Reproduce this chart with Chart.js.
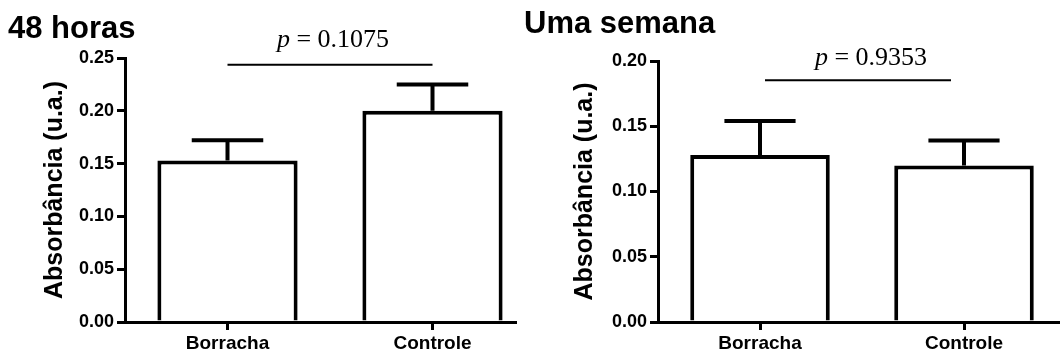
<!DOCTYPE html>
<html>
<head>
<meta charset="utf-8">
<script src="https://cdn.jsdelivr.net/npm/chart.js@4.4.1/dist/chart.umd.min.js"></script>
<style>
  html, body { margin: 0; padding: 0; background: #fff; overflow: hidden; }
  canvas { display: block; }
  .painel { position: absolute; top: 0; height: 354px; overflow: hidden; }
  #painel48h { left: 0; width: 517px; }
  #painelSemana { left: 515px; width: 545px; }
</style>
</head>
<body>
<div class="painel" id="painel48h"><canvas id="chart48h" width="535" height="354"></canvas></div>
<div class="painel" id="painelSemana"><canvas id="chartSemana" width="551" height="354"></canvas></div>
<script>
// grupos
const categorias = ['Borracha', 'Controle'];

// 48 horas: média e erro padrão
const medias48h = [0.153, 0.200];
const erros48h = [0.019, 0.025];
const ticks48h = [0.00, 0.05, 0.10, 0.15, 0.20, 0.25];
const p48h = '0.1075';
const nivelP48h = 0.2435;

// uma semana
const mediasSemana = [0.128, 0.120];
const errosSemana = [0.026, 0.019];
const ticksSemana = [0.00, 0.05, 0.10, 0.15, 0.20];
const pSemana = '0.9353';
const nivelPSemana = 0.1853;

const SANS = 'Arial, "Liberation Sans", sans-serif';
const SERIF = '"Times New Roman", "Liberation Serif", serif';

// barras de erro (só para cima), linha de comparação com o p e título do painel
const anotacoes = {
    id: 'anotacoes',
    afterDatasetsDraw(chart, args, opts) {
        const ctx = chart.ctx;
        const y = chart.scales.y;
        const meta = chart.getDatasetMeta(0);
        const valores = chart.data.datasets[0].data;

        ctx.save();
        ctx.strokeStyle = '#000';
        ctx.fillStyle = '#000';
        ctx.lineWidth = 4;
        meta.data.forEach((barra, i) => {
            const yTopo = y.getPixelForValue(valores[i] + opts.erros[i]);
            const meia = barra.width * 0.51 / 2;
            ctx.beginPath();
            ctx.moveTo(barra.x, barra.y);
            ctx.lineTo(barra.x, yTopo);
            ctx.moveTo(barra.x - meia, yTopo);
            ctx.lineTo(barra.x + meia, yTopo);
            ctx.stroke();
        });

        // linha entre os grupos
        const yLinha = y.getPixelForValue(opts.nivelP);
        const x1 = meta.data[0].x + opts.recuo[0];
        const x2 = meta.data[1].x - opts.recuo[1];
        ctx.lineWidth = 2;
        ctx.beginPath();
        ctx.moveTo(x1, yLinha);
        ctx.lineTo(x2, yLinha);
        ctx.stroke();

        // "p = ..." com o p em itálico
        const italico = 'italic 26px ' + SERIF;
        const normal = '26px ' + SERIF;
        const resto = ' = ' + opts.p;
        ctx.font = italico;
        const wP = ctx.measureText('p').width;
        ctx.font = normal;
        const wR = ctx.measureText(resto).width;
        const cx = (x1 + x2) / 2 + opts.deslocTexto;
        const base = yLinha - opts.alturaTexto;
        ctx.textAlign = 'left';
        ctx.textBaseline = 'alphabetic';
        ctx.font = italico;
        ctx.fillText('p', cx - (wP + wR) / 2, base);
        ctx.font = normal;
        ctx.fillText(resto, cx - (wP + wR) / 2 + wP, base);

        // título do painel
        ctx.font = 'bold 31px ' + SANS;
        ctx.fillText(opts.titulo, opts.tituloX, opts.tituloY);
        ctx.restore();
    }
};

function criarGrafico(id, medias, erros, ticks, p, nivelP, extra) {
    const ctx = document.getElementById(id).getContext('2d');
    return new Chart(ctx, {
        type: 'bar',
        data: {
            labels: categorias,
            datasets: [{
                data: medias,
                backgroundColor: '#fff',
                borderColor: '#000',
                borderWidth: 4,
                borderSkipped: 'start',
                barPercentage: 0.684,
                categoryPercentage: 1.0
            }]
        },
        options: {
            responsive: false,
            animation: false,
            layout: { padding: { top: extra.topo, left: 0, right: 0, bottom: 0 } },
            plugins: {
                legend: { display: false },
                tooltip: { enabled: false },
                anotacoes: {
                    erros: erros,
                    p: p,
                    nivelP: nivelP,
                    recuo: extra.recuo,
                    deslocTexto: extra.deslocTexto,
                    alturaTexto: extra.alturaTexto,
                    titulo: extra.titulo,
                    tituloX: extra.tituloX,
                    tituloY: extra.tituloY
                }
            },
            scales: {
                x: {
                    afterFit: (s) => { s.height = 32; },
                    grid: {
                        offset: false,
                        drawOnChartArea: false,
                        drawTicks: true,
                        tickLength: 8,
                        lineWidth: 3,
                        color: '#000'
                    },
                    border: { display: true, color: '#000', width: 3 },
                    ticks: {
                        color: '#000',
                        padding: 2,
                        font: { family: SANS, size: 19, weight: 'bold' }
                    }
                },
                y: {
                    min: ticks[0],
                    max: ticks[ticks.length - 1],
                    afterFit: (s) => { s.width = extra.larguraEixo; },
                    afterBuildTicks: (s) => { s.ticks = ticks.map(v => ({ value: v })); },
                    grid: {
                        drawOnChartArea: false,
                        drawTicks: true,
                        tickLength: 8,
                        lineWidth: 3,
                        color: '#000'
                    },
                    border: { display: true, color: '#000', width: 3 },
                    ticks: {
                        color: '#000',
                        padding: 3,
                        font: { family: SANS, size: 18, weight: 'bold' },
                        callback: (v) => Number(v).toFixed(2)
                    },
                    title: {
                        display: true,
                        text: 'Absorbância (u.a.)',
                        color: '#000',
                        font: { family: SANS, size: 25, weight: 'bold' },
                        padding: { top: extra.tituloEixo, bottom: 0 }
                    }
                }
            }
        },
        plugins: [anotacoes]
    });
}

criarGrafico('chart48h', medias48h, erros48h, ticks48h, p48h, nivelP48h, {
    topo: 58, larguraEixo: 125, tituloEixo: 40,
    recuo: [0, 0], deslocTexto: 3, alturaTexto: 18,
    titulo: '48 horas', tituloX: 8, tituloY: 38
});

criarGrafico('chartSemana', mediasSemana, errosSemana, ticksSemana, pSemana, nivelPSemana, {
    topo: 61, larguraEixo: 143, tituloEixo: 55,
    recuo: [5, 13], deslocTexto: 13, alturaTexto: 15,
    titulo: 'Uma semana', tituloX: 9, tituloY: 33
});
</script>
</body>
</html>
